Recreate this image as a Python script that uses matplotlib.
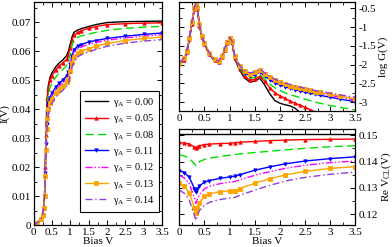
import matplotlib
matplotlib.use("Agg")
import matplotlib.pyplot as plt
from matplotlib.ticker import MultipleLocator

plt.rcParams['font.family'] = ['Liberation Serif', 'DejaVu Serif']
plt.rcParams['mathtext.fontset'] = 'custom'
plt.rcParams['mathtext.rm'] = 'Liberation Serif'
plt.rcParams['mathtext.it'] = 'Liberation Serif:italic'

# gamma_A values and styling per series
gammas = ["0.00", "0.05", "0.08", "0.11", "0.12", "0.13", "0.14"]
colors = ['black', '#ff0000', '#00e000', '#0000ff', '#ff00ff', '#ffa500', '#8a3fd8']
styles = ['-', '-', (0, (6, 3)), '-', (0, (5, 1.5, 1, 1.5, 1, 1.5)), '-', (0, (5, 2, 1, 2))]
markers = [None, '^', None, 'v', None, 's', None]

# ---- current I(V) ----
V_I = [0, 0.1, 0.2, 0.25, 0.28, 0.3, 0.32, 0.34, 0.36, 0.38, 0.4, 0.45, 0.5, 0.6, 0.7,
       0.8, 0.9, 0.95, 1.0, 1.05, 1.1, 1.2, 1.3, 1.5, 1.7, 2.0, 2.5, 3.0, 3.5]
I_000 = [0, 0.0008, 0.002, 0.0035, 0.006, 0.010, 0.020, 0.032, 0.040, 0.045, 0.048, 0.051, 0.0525,
         0.0545, 0.056, 0.057, 0.0585, 0.060, 0.0625, 0.065, 0.0665, 0.0673, 0.0678, 0.0685, 0.0692,
         0.0699, 0.0702, 0.0703, 0.0704]
I_005 = [0, 0.0008, 0.002, 0.0035, 0.006, 0.010, 0.020, 0.031, 0.039, 0.044, 0.047, 0.050, 0.0515,
         0.0535, 0.055, 0.056, 0.0572, 0.0588, 0.0612, 0.064, 0.0655, 0.0665, 0.0671, 0.0679, 0.0685,
         0.0692, 0.0695, 0.0697, 0.0698]
I_008 = [0, 0.0008, 0.002, 0.0035, 0.006, 0.010, 0.019, 0.030, 0.037, 0.042, 0.045, 0.0475, 0.049,
         0.051, 0.0525, 0.0537, 0.055, 0.0563, 0.059, 0.062, 0.0638, 0.0648, 0.0653, 0.0659, 0.0665,
         0.0672, 0.0679, 0.0683, 0.0686]
I_011 = [0, 0.0008, 0.002, 0.0035, 0.006, 0.010, 0.018, 0.028, 0.035, 0.039, 0.042, 0.044, 0.0455,
         0.0475, 0.049, 0.050, 0.0515, 0.0528, 0.0555, 0.0585, 0.0605, 0.0617, 0.0623, 0.0632, 0.0637,
         0.0644, 0.0652, 0.0658, 0.0663]
I_012 = [0, 0.0008, 0.002, 0.0035, 0.006, 0.010, 0.018, 0.027, 0.034, 0.038, 0.041, 0.043, 0.0445,
         0.0465, 0.048, 0.049, 0.0505, 0.0518, 0.0545, 0.0575, 0.0595, 0.0608, 0.0615, 0.0624, 0.0630,
         0.0638, 0.0646, 0.0652, 0.0657]
I_013 = [0, 0.0008, 0.002, 0.0035, 0.006, 0.010, 0.017, 0.026, 0.033, 0.037, 0.040, 0.042, 0.0435,
         0.0455, 0.047, 0.048, 0.0493, 0.0505, 0.053, 0.056, 0.058, 0.0593, 0.060, 0.0609, 0.0617,
         0.0627, 0.0637, 0.0644, 0.0649]
I_014 = [0, 0.0008, 0.002, 0.0035, 0.006, 0.010, 0.016, 0.025, 0.031, 0.035, 0.038, 0.0405, 0.042,
         0.044, 0.0455, 0.0465, 0.048, 0.049, 0.0515, 0.0545, 0.0565, 0.058, 0.0588, 0.0598, 0.0606,
         0.0617, 0.0628, 0.0635, 0.064]

# ---- log conductance ----
V_G = [0, 0.1, 0.15, 0.2, 0.25, 0.3, 0.33, 0.36, 0.4, 0.45, 0.5, 0.6, 0.7, 0.78, 0.85, 0.9, 0.95,
       1.0, 1.05, 1.1, 1.2, 1.3, 1.4, 1.5, 1.6, 1.7, 1.8, 1.9, 2.0, 2.1, 2.2, 2.3, 2.4, 2.5, 2.6,
       2.7, 2.8, 3.0, 3.2, 3.5]
G_000 = [-2.0, -1.88, -1.68, -1.33, -0.92, -0.52, -0.40, -0.52, -0.97, -1.27, -1.46, -1.74, -1.90,
         -1.95, -1.80, -1.62, -1.44, -1.32, -1.42, -1.84, -2.15, -2.36, -2.46, -2.44, -2.36, -2.55,
         -2.78, -2.96, -3.03, -3.07, -3.10, -3.16, -3.28, -3.45, -3.6, -3.7, -3.8, -3.9, -4.0, -4.1]
G_005 = [-1.99, -1.87, -1.67, -1.32, -0.91, -0.51, -0.39, -0.51, -0.96, -1.26, -1.45, -1.73, -1.89,
         -1.94, -1.79, -1.61, -1.43, -1.31, -1.41, -1.82, -2.12, -2.31, -2.41, -2.39, -2.31, -2.45,
         -2.62, -2.75, -2.83, -2.90, -2.97, -3.03, -3.08, -3.14, -3.20, -3.26, -3.32, -3.42, -3.5, -3.6]
G_008 = [-1.98, -1.86, -1.66, -1.31, -0.90, -0.50, -0.38, -0.50, -0.95, -1.25, -1.44, -1.72, -1.88,
         -1.93, -1.78, -1.60, -1.42, -1.30, -1.40, -1.80, -2.09, -2.27, -2.36, -2.34, -2.26, -2.38,
         -2.52, -2.62, -2.69, -2.75, -2.80, -2.84, -2.88, -2.92, -2.96, -3.00, -3.03, -3.09, -3.14, -3.21]
G_011 = [-1.97, -1.85, -1.65, -1.30, -0.89, -0.49, -0.37, -0.49, -0.94, -1.24, -1.43, -1.71, -1.87,
         -1.92, -1.77, -1.59, -1.41, -1.29, -1.39, -1.78, -2.06, -2.22, -2.30, -2.27, -2.20, -2.30,
         -2.41, -2.49, -2.54, -2.59, -2.63, -2.67, -2.70, -2.73, -2.76, -2.79, -2.82, -2.87, -2.92, -2.99]
G_012 = [-1.96, -1.84, -1.64, -1.29, -0.88, -0.49, -0.37, -0.49, -0.94, -1.24, -1.43, -1.71, -1.87,
         -1.92, -1.77, -1.59, -1.41, -1.29, -1.38, -1.77, -2.05, -2.20, -2.27, -2.24, -2.17, -2.27,
         -2.37, -2.45, -2.50, -2.55, -2.59, -2.63, -2.66, -2.69, -2.72, -2.75, -2.77, -2.82, -2.87, -2.94]
G_013 = [-1.95, -1.83, -1.63, -1.28, -0.87, -0.48, -0.36, -0.48, -0.93, -1.23, -1.42, -1.70, -1.86,
         -1.91, -1.76, -1.58, -1.40, -1.28, -1.37, -1.76, -2.03, -2.18, -2.24, -2.21, -2.14, -2.24,
         -2.34, -2.42, -2.47, -2.52, -2.56, -2.60, -2.63, -2.66, -2.69, -2.72, -2.74, -2.79, -2.84, -2.91]
G_014 = [-1.94, -1.82, -1.62, -1.27, -0.86, -0.48, -0.36, -0.48, -0.93, -1.23, -1.42, -1.70, -1.86,
         -1.91, -1.76, -1.58, -1.40, -1.28, -1.37, -1.75, -2.02, -2.16, -2.22, -2.19, -2.12, -2.22,
         -2.31, -2.39, -2.44, -2.49, -2.53, -2.57, -2.60, -2.63, -2.66, -2.69, -2.71, -2.76, -2.81, -2.87]

# ---- Re V_CL ----
V_C = [0, 0.1, 0.2, 0.3, 0.33, 0.36, 0.4, 0.5, 0.6, 0.8, 1.0, 1.1, 1.2, 1.5, 1.8, 2.1, 2.5, 3.0, 3.5]
C_000 = [0.1503] * len(V_C)
C_005 = [0.1472, 0.1470, 0.1466, 0.1455, 0.1452, 0.1456, 0.1460, 0.1464, 0.1466, 0.1468, 0.1469,
         0.1471, 0.1473, 0.1476, 0.1479, 0.1481, 0.1483, 0.1484, 0.1485]
C_008 = [0.1425, 0.1421, 0.1412, 0.1392, 0.1384, 0.1392, 0.1400, 0.1408, 0.1413, 0.1419, 0.1424,
         0.1426, 0.1429, 0.1434, 0.1439, 0.1444, 0.1450, 0.1456, 0.1460]
C_011 = [0.1366, 0.1358, 0.1340, 0.1298, 0.1283, 0.1296, 0.1308, 0.1322, 0.1328, 0.1336, 0.1342,
         0.1344, 0.1350, 0.1367, 0.1380, 0.1391, 0.1402, 0.1411, 0.1418]
C_012 = [0.1348, 0.1338, 0.1316, 0.1262, 0.1242, 0.1258, 0.1275, 0.1297, 0.1306, 0.1316, 0.1322,
         0.1324, 0.1331, 0.1348, 0.1362, 0.1374, 0.1386, 0.1396, 0.1402]
C_013 = [0.1318, 0.1306, 0.1282, 0.1225, 0.1207, 0.1225, 0.1245, 0.1268, 0.1278, 0.1286, 0.1289,
         0.1289, 0.1298, 0.1318, 0.1335, 0.1349, 0.1363, 0.1374, 0.1381]
C_014 = [0.1292, 0.1280, 0.1254, 0.1196, 0.1178, 0.1195, 0.1215, 0.1235, 0.1246, 0.1256, 0.1262,
         0.1264, 0.1272, 0.1292, 0.1310, 0.1326, 0.1340, 0.1352, 0.1360]

I_all = [I_000, I_005, I_008, I_011, I_012, I_013, I_014]
G_all = [G_000, G_005, G_008, G_011, G_012, G_013, G_014]
C_all = [C_000, C_005, C_008, C_011, C_012, C_013, C_014]

x_ticks = [0, 0.5, 1, 1.5, 2, 2.5, 3, 3.5]
x_labels = ['0', '0.5', '1', '1.5', '2', '2.5', '3', '3.5']

fig = plt.figure(figsize=(3.92, 2.47), dpi=100)
ax_i = fig.add_axes([0.0855, 0.089, 0.328, 0.903])
ax_g = fig.add_axes([0.4574, 0.5486, 0.4492, 0.4433])
ax_c = fig.add_axes([0.4574, 0.089, 0.4492, 0.3887])

for k in range(7):
    kw = dict(color=colors[k], ls=styles[k], lw=1.0, marker=markers[k], ms=2.4, mew=0.6)
    ax_i.plot(V_I, I_all[k], label=r'γ$_{\mathrm{A}}$ = ' + gammas[k], **kw)
    ax_g.plot(V_G, G_all[k], **kw)
    ax_c.plot(V_C, C_all[k], **kw)

for ax in (ax_i, ax_g, ax_c):
    ax.set_xlim(0, 3.5)
    ax.set_xticks(x_ticks)
    ax.set_xticklabels(x_labels)
    ax.xaxis.set_minor_locator(MultipleLocator(0.25))
    ax.tick_params(which='both', direction='in', top=True, right=True, labelsize=8, pad=2)
    ax.tick_params(which='major', length=3.5, width=0.7)
    ax.tick_params(which='minor', length=2, width=0.6)
    for s in ax.spines.values():
        s.set_linewidth(0.9)

ax_i.set_ylim(0, 0.077)
ax_i.set_yticks([0, 0.01, 0.02, 0.03, 0.04, 0.05, 0.06, 0.07])
ax_i.set_yticklabels(['0', '0.01', '0.02', '0.03', '0.04', '0.05', '0.06', '0.07'])
ax_i.yaxis.set_minor_locator(MultipleLocator(0.005))
ax_i.set_ylabel('I(V)', fontsize=8, labelpad=1)
ax_i.set_xlabel('Bias V', fontsize=8, labelpad=0)
leg = ax_i.legend(loc='lower right', bbox_to_anchor=(0.975, 0.06), fontsize=7.5, frameon=True,
                  fancybox=False, edgecolor='black', framealpha=1, handlelength=2.2,
                  labelspacing=0.32, borderpad=0.45, handletextpad=0.5, borderaxespad=0)
leg.get_frame().set_linewidth(0.8)

ax_g.set_ylim(-3.25, -0.33)
ax_g.set_yticks([-3, -2.5, -2, -1.5, -1, -0.5])
ax_g.set_yticklabels(['-3', '-2.5', '-2', '-1.5', '-1', '-0.5'])
ax_g.yaxis.set_minor_locator(MultipleLocator(0.25))
ax_g.tick_params(labelleft=False, labelright=True)
ax_g.yaxis.set_label_position('right')
ax_g.set_ylabel('log G(V)', fontsize=8, labelpad=2)

ax_c.set_ylim(0.116, 0.1523)
ax_c.set_yticks([0.12, 0.13, 0.14, 0.15])
ax_c.set_yticklabels(['0.12', '0.13', '0.14', '0.15'])
ax_c.yaxis.set_minor_locator(MultipleLocator(0.005))
ax_c.tick_params(labelleft=False, labelright=True)
ax_c.yaxis.set_label_position('right')
ax_c.set_ylabel(r'Re V$_{\mathrm{CL}}$(V)', fontsize=8, labelpad=1)
ax_c.set_xlabel('Bias V', fontsize=8, labelpad=0)

fig.savefig('out.png', dpi=100)
